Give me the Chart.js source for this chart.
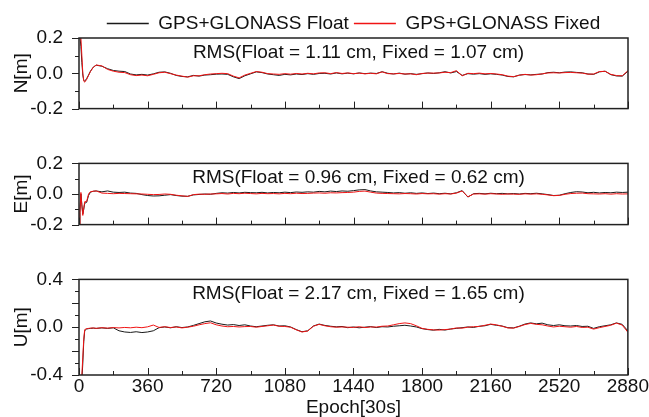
<!DOCTYPE html>
<html>
<head>
<meta charset="utf-8">
<script src="https://cdn.jsdelivr.net/npm/chart.js@4/dist/chart.umd.min.js"></script>
<style>
  html, body { margin: 0; padding: 0; background: #fff; }
  #wrap { position: relative; width: 649px; height: 417px; overflow: hidden; }
  .pane { position: absolute; left: 0; width: 649px; }
</style>
</head>
<body>
<div id="wrap">
  <div class="pane" style="top:0;height:136px"><canvas id="cN"></canvas></div>
  <div class="pane" style="top:136px;height:116px"><canvas id="cE"></canvas></div>
  <div class="pane" style="top:252px;height:165px"><canvas id="cU"></canvas></div>
</div>
<script>
// epochs (30 s) sampled from the plot
const epochs = [
  0, 5, 10, 15, 20, 25, 30, 40, 50, 60, 75, 90,
  120, 150, 180, 210, 240, 270, 300, 330, 360, 390,
  420, 450, 480, 510, 540, 570, 600, 630, 660, 690,
  720, 750, 780, 810, 840, 870, 900, 930, 960, 990,
  1020, 1050, 1080, 1110, 1140, 1170, 1200, 1230, 1260, 1290,
  1320, 1350, 1380, 1410, 1440, 1470, 1500, 1530, 1560, 1590,
  1620, 1650, 1680, 1710, 1740, 1770, 1800, 1830, 1860, 1890,
  1920, 1950, 1980, 2010, 2040, 2070, 2100, 2130, 2160, 2190,
  2220, 2250, 2280, 2310, 2340, 2370, 2400, 2430, 2460, 2490,
  2520, 2550, 2580, 2610, 2640, 2670, 2700, 2730, 2760, 2790,
  2820, 2850, 2880
];

// N component [m]
const nFloat = [
  0.26, 0.21, 0.15, 0.06, -0.01, -0.04, -0.045, -0.03, -0.01, 0.012, 0.035, 0.046,
  0.040, 0.026, 0.016, 0.012, 0.010, -0.004, -0.009, -0.006, -0.010, -0.003,
  0.006, 0.008, 0.000, -0.012, -0.018, -0.020, -0.012, -0.016, -0.010, -0.008,
  -0.005, -0.004, -0.006, -0.020, -0.030, -0.014, -0.003, 0.008, 0.004, -0.004,
  -0.008, -0.012, -0.006, -0.009, -0.004, -0.007, -0.002, -0.006, -0.001, 0.000,
  -0.004, 0.002, -0.003, 0.001, -0.003, 0.002, -0.002, 0.001, -0.001, 0.009,
  0.000, -0.004, 0.001, -0.005, -0.002, -0.006, -0.002, 0.002, -0.001, 0.003,
  0.009, 0.002, 0.010, -0.012, -0.002, -0.005, -0.002, -0.006, -0.003, -0.006,
  -0.010, -0.018, -0.020, -0.010, -0.007, -0.009, -0.006, -0.004, 0.004, 0.006,
  0.003, 0.007, 0.008, 0.005, 0.003, -0.004, -0.006, 0.008, 0.012, -0.008,
  -0.015, -0.016, 0.012
];
const nFixed = [
  0.26, 0.22, 0.20, 0.10, 0.00, -0.045, -0.05, -0.035, -0.012, 0.010, 0.034, 0.047,
  0.042, 0.022, 0.012, 0.006, 0.004, -0.008, -0.013, -0.010, -0.014, -0.006,
  0.003, 0.006, -0.002, -0.010, -0.016, -0.022, -0.014, -0.014, -0.008, -0.004,
  -0.002, 0.000, -0.002, -0.016, -0.026, -0.010, 0.000, 0.010, 0.006, -0.002,
  -0.004, -0.006, -0.002, -0.005, -0.001, -0.004, 0.000, -0.003, 0.002, 0.003,
  -0.002, 0.004, -0.001, 0.002, -0.002, 0.001, -0.003, 0.000, -0.003, 0.008,
  -0.002, -0.003, -0.001, -0.004, -0.003, -0.008, -0.001, 0.001, 0.001, 0.002,
  0.006, 0.004, 0.015, -0.014, 0.000, -0.002, 0.001, -0.003, -0.001, -0.004,
  -0.008, -0.016, -0.019, -0.011, -0.006, -0.010, -0.008, -0.003, 0.002, 0.003,
  0.002, 0.004, 0.005, 0.003, 0.001, -0.005, -0.004, 0.010, 0.011, -0.006,
  -0.013, -0.014, 0.015
];

// E component [m]
const eFloat = [
  -0.25, -0.12, 0.00, -0.07, -0.13, -0.10, -0.06, -0.055, -0.01, 0.012, 0.018, 0.020,
  0.014, 0.020, 0.012, 0.010, 0.012, 0.006, 0.004, -0.004, -0.010, -0.013,
  -0.012, -0.008, -0.004, -0.010, -0.014, -0.015, -0.006, -0.003, 0.000, -0.002,
  0.004, 0.008, 0.006, 0.010, 0.007, 0.011, 0.009, 0.008, 0.011, 0.007,
  0.010, 0.008, 0.012, 0.009, 0.013, 0.011, 0.014, 0.012, 0.017, 0.014,
  0.019, 0.016, 0.020, 0.018, 0.022, 0.027, 0.029, 0.020, 0.014, 0.012,
  0.010, 0.007, 0.009, 0.005, 0.008, 0.004, 0.007, 0.003, 0.006, 0.002,
  0.005, 0.001, 0.008, 0.022, -0.020, 0.002, 0.004, 0.001, 0.005, 0.002,
  0.004, 0.001, 0.003, 0.000, 0.004, 0.002, 0.005, 0.001, -0.004, -0.010,
  -0.008, 0.002, 0.010, 0.015, 0.013, 0.008, 0.011, 0.007, 0.010, 0.008,
  0.012, 0.010, 0.012
];
const eFixed = [
  -0.25, -0.10, 0.01, -0.08, -0.14, -0.09, -0.05, -0.05, 0.00, 0.015, 0.018, 0.020,
  0.006, 0.004, 0.002, 0.004, 0.003, 0.002, 0.001, 0.000, -0.002, -0.004,
  -0.003, 0.000, -0.002, -0.008, -0.012, -0.016, -0.004, -0.001, -0.002, 0.000,
  0.001, 0.003, 0.000, 0.004, 0.002, 0.005, 0.003, 0.001, 0.004, 0.002,
  0.003, 0.001, 0.004, 0.002, 0.005, 0.003, 0.004, 0.006, 0.007, 0.005,
  0.008, 0.007, 0.009, 0.010, 0.012, 0.017, 0.019, 0.012, 0.006, 0.004,
  0.003, 0.002, 0.001, 0.003, 0.002, 0.000, 0.003, 0.001, 0.002, -0.001,
  0.002, 0.000, 0.006, 0.020, -0.018, 0.000, 0.001, -0.001, 0.002, 0.000,
  -0.002, 0.000, -0.001, -0.002, 0.001, -0.001, 0.001, -0.002, -0.006, -0.011,
  -0.009, -0.002, 0.003, 0.005, 0.006, 0.002, 0.001, 0.000, 0.002, -0.001,
  0.002, 0.000, 0.001
];

// U component [m]
const uFloat = [
  -0.70, -0.65, -0.55, -0.45, -0.30, -0.12, -0.03, -0.015, -0.012, -0.010, -0.008, -0.010,
  -0.006, -0.010, -0.005, -0.030, -0.040, -0.044, -0.038, -0.045, -0.040, -0.030,
  -0.004, 0.002, -0.005, 0.004, -0.003, 0.002, 0.015, 0.030, 0.045, 0.052,
  0.035, 0.025, 0.018, 0.022, 0.014, 0.020, 0.010, 0.004, 0.010, 0.016,
  0.020, 0.010, 0.012, 0.002, -0.020, -0.038, -0.030, 0.010, 0.026, 0.015,
  0.008, 0.003, 0.006, -0.004, 0.002, -0.005, 0.000, 0.005, -0.003, 0.004,
  0.002, 0.008, 0.012, 0.016, 0.010, 0.002, -0.012, -0.020, -0.025, -0.018,
  -0.024, -0.015, -0.010, -0.004, 0.002, -0.002, 0.008, 0.012, 0.024, 0.016,
  0.010, -0.004, -0.006, 0.008, 0.026, 0.036, 0.028, 0.034, 0.020, 0.014,
  0.020, 0.012, 0.010, 0.014, 0.006, 0.008, -0.010, 0.004, 0.012, 0.020,
  0.036, 0.024, -0.030
];
const uFixed = [
  -0.70, -0.60, -0.50, -0.40, -0.25, -0.10, -0.02, -0.012, -0.010, -0.008, -0.006, -0.010,
  -0.004, -0.008, -0.003, -0.006, -0.002, -0.005, 0.000, -0.004, 0.003, 0.018,
  -0.002, 0.004, -0.003, 0.002, -0.006, 0.000, 0.008, 0.020, 0.030, 0.037,
  0.020, 0.010, 0.004, 0.006, 0.002, 0.005, 0.006, 0.000, 0.006, 0.012,
  0.018, 0.008, 0.006, 0.000, -0.022, -0.040, -0.032, 0.008, 0.024, 0.012,
  0.004, 0.000, 0.002, 0.000, -0.002, 0.004, -0.003, 0.002, 0.001, 0.008,
  0.010, 0.020, 0.030, 0.036, 0.030, 0.012, -0.010, -0.018, -0.022, -0.024,
  -0.020, -0.016, -0.006, -0.008, 0.000, 0.004, 0.006, 0.016, 0.026, 0.020,
  0.008, -0.006, -0.008, 0.006, 0.022, 0.032, 0.024, 0.020, 0.010, 0.002,
  0.008, 0.004, 0.000, 0.006, -0.002, 0.000, -0.016, -0.004, 0.006, 0.016,
  0.034, 0.018, -0.042
];

const seriesNames = ['GPS+GLONASS Float', 'GPS+GLONASS Fixed'];
const seriesColors = ['#1a1a1a', '#f01414'];
const axisTitles = ['N[m]', 'E[m]', 'U[m]'];
const rmsLabels = [
  'RMS(Float = 1.11 cm, Fixed = 1.07 cm)',
  'RMS(Float = 0.96 cm, Fixed = 0.62 cm)',
  'RMS(Float = 2.17 cm, Fixed = 1.65 cm)'
];
const yRanges = [[-0.2, 0.2], [-0.2, 0.2], [-0.4, 0.4]];
const xTitle = 'Epoch[30s]';

const FONT = '"Liberation Sans", Arial, sans-serif';
Chart.defaults.font.family = FONT;
Chart.defaults.font.size = 19;
Chart.defaults.color = '#111';

// box, inward x ticks, outward y ticks and the RMS note
const framePlugin = {
  id: 'frame',
  afterDraw(chart, args, opts) {
    const { ctx, chartArea: a } = chart;
    const xs = chart.scales.x, ys = chart.scales.y;
    ctx.save();
    ctx.strokeStyle = '#222';
    ctx.lineWidth = 1;
    ctx.beginPath();
    for (let v = xs.min; v <= xs.max; v += 180) {
      const px = Math.round(xs.getPixelForValue(v)) + 0.5;
      const len = v % 360 === 0 ? 7 : 4;
      ctx.moveTo(px, a.bottom);
      ctx.lineTo(px, a.bottom - len);
    }
    const n = Math.round((ys.max - ys.min) / 0.1);
    for (let i = 0; i <= n; i++) {
      const py = Math.round(ys.getPixelForValue(ys.min + i * 0.1)) + 0.5;
      const len = i % 2 === 0 ? 7 : 4;
      ctx.moveTo(a.left, py);
      ctx.lineTo(a.left - len, py);
    }
    ctx.stroke();
    ctx.lineWidth = 1.5;
    ctx.strokeRect(a.left, a.top, a.right - a.left, a.bottom - a.top);
    ctx.fillStyle = '#111';
    ctx.font = '19px ' + FONT;
    ctx.textAlign = 'center';
    ctx.textBaseline = 'alphabetic';
    ctx.fillText(opts.text, (a.left + a.right) / 2 + 5, a.top + 20);
    ctx.restore();
  }
};

function points(ys) {
  return epochs.map((e, i) => ({ x: e, y: ys[i] }));
}

function series(i, data) {
  const c = seriesColors[i];
  return {
    label: seriesNames[i],
    data: points(data),
    borderColor: c,
    backgroundColor: c,
    borderWidth: 1,
    order: 1 - i
  };
}

function legendLabels(chart) {
  return seriesNames.map((name, i) => ({
    text: name,
    datasetIndex: i,
    fillStyle: seriesColors[i],
    strokeStyle: seriesColors[i],
    fontColor: '#111',
    lineWidth: 1.4,
    pointStyle: 'line',
    hidden: false
  }));
}

function panel(id, k, float, fixed) {
  const first = k === 0, last = k === 2;
  return new Chart(document.getElementById(id), {
    type: 'line',
    data: { datasets: [series(0, float), series(1, fixed)] },
    options: {
      responsive: true,
      maintainAspectRatio: false,
      animation: false,
      events: [],
      layout: { padding: { left: 0, right: 21, top: first ? 9 : (k === 1 ? 20 : 21), bottom: 0 } },
      elements: { point: { radius: 0 }, line: { tension: 0 } },
      plugins: {
        legend: first ? {
          display: true,
          position: 'top',
          align: 'center',
          fullSize: false,
          maxHeight: 29,
          labels: {
            usePointStyle: true,
            pointStyle: 'line',
            pointStyleWidth: 42,
            padding: 5,
            color: '#111',
            generateLabels: legendLabels
          }
        } : { display: false },
        tooltip: { enabled: false },
        frame: { text: rmsLabels[k] }
      },
      scales: {
        x: {
          type: 'linear',
          min: 0,
          max: 2880,
          grid: { display: false, drawTicks: false },
          border: { display: false },
          ticks: { display: last, stepSize: 360, padding: 0, maxRotation: 0, autoSkip: false, callback: v => String(v) },
          title: { display: last, text: xTitle, padding: 0, font: { lineHeight: 1 } },
          afterFit: s => { s.height = last ? 42 : 12; }
        },
        y: {
          min: yRanges[k][0],
          max: yRanges[k][1],
          grid: { display: false, drawTicks: false },
          border: { display: false },
          ticks: {
            stepSize: 0.2,
            padding: 16,
            callback: v => Math.abs(v) < 1e-9 ? '0.0' : v.toFixed(1)
          },
          title: { display: true, text: axisTitles[k], padding: { top: 10, bottom: 0 } },
          afterFit: s => { s.width = 79; }
        }
      }
    },
    plugins: [framePlugin]
  });
}

panel('cN', 0, nFloat, nFixed);
panel('cE', 1, eFloat, eFixed);
panel('cU', 2, uFloat, uFixed);
</script>
</body>
</html>
